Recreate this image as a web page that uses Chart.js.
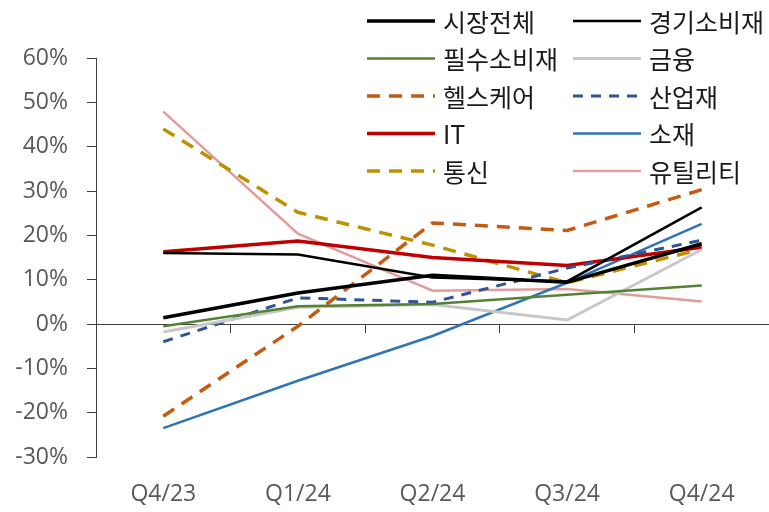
<!DOCTYPE html>
<html>
<head>
<meta charset="utf-8">
<script src="https://cdn.jsdelivr.net/npm/chart.js@4.4.1/dist/chart.umd.min.js"></script>
<style>
  html, body { margin: 0; padding: 0; background: #fff; }
  #wrap { width: 769px; height: 512px; }
</style>
</head>
<body>
<div id="wrap"><canvas id="sectorChart"></canvas></div>
<script>
// Data (quarterly, %)
const quarters = ['Q4/23', 'Q1/24', 'Q2/24', 'Q3/24', 'Q4/24'];
const market      = [1.4, 7.0, 11.0, 9.4, 18.1];
const consDisc    = [16.0, 15.7, 10.5, 9.6, 26.3];
const consStaples = [-0.5, 4.0, 4.5, 6.6, 8.7];
const financials  = [-1.8, 3.8, 4.4, 0.9, 16.8];
const healthcare  = [-20.8, -0.5, 22.8, 21.1, 30.3];
const industrials = [-4.0, 5.9, 4.9, 12.6, 18.9];
const itSector    = [16.3, 18.7, 15.0, 13.2, 17.3];
const materials   = [-23.5, -12.8, -2.7, 9.3, 22.6];
const telecom     = [44.0, 25.2, 17.8, 9.3, 16.9];
const utilities   = [47.9, 20.4, 7.5, 7.9, 5.1];
const yTicks = [-30, -20, -10, 0, 10, 20, 30, 40, 50, 60];

Chart.defaults.font.family = '"Open Sans", "Noto Sans", sans-serif';

function line(label, data, color, width, dash) {
  return {
    label: label,
    data: data,
    borderColor: color,
    backgroundColor: color,
    borderWidth: width,
    borderDash: dash || [],
    borderCapStyle: 'butt',
    pointRadius: 0,
    tension: 0,
    fill: false
  };
}

// legend drawn in two columns at the top right
const legendPlugin = {
  id: 'sectorLegend',
  afterDraw(chart) {
    const ctx = chart.ctx;
    const cols = [367, 573];
    chart.data.datasets.forEach((ds, i) => {
      const x = cols[i % 2];
      const y = 21 + Math.floor(i / 2) * 37.5;
      ctx.save();
      ctx.strokeStyle = ds.borderColor;
      ctx.lineWidth = ds.borderWidth;
      ctx.setLineDash(ds.borderDash);
      ctx.beginPath();
      ctx.moveTo(x, y);
      ctx.lineTo(x + 68, y);
      ctx.stroke();
      ctx.setLineDash([]);
      ctx.fillStyle = '#1a1a1a';
      ctx.font = '25px "Noto Sans CJK KR"';
      ctx.textBaseline = 'middle';
      ctx.fillText(ds.label, x + 76, y + 1);
      ctx.restore();
    });
  }
};

const config = {
  type: 'line',
  data: {
    labels: quarters,
    datasets: [
      line('시장전체', market, '#000000', 3.5),
      line('경기소비재', consDisc, '#000000', 2.5),
      line('필수소비재', consStaples, '#548235', 2.5),
      line('금융', financials, '#C8C8C8', 3),
      line('헬스케어', healthcare, '#C55A11', 3.5, [13, 9]),
      line('산업재', industrials, '#2F5597', 3, [10, 8]),
      line('IT', itSector, '#C00000', 3.5),
      line('소재', materials, '#2E75B6', 2.5),
      line('통신', telecom, '#BF9000', 3.5, [13, 9]),
      line('유틸리티', utilities, '#E39C9C', 2.5)
    ]
  },
  options: {
    responsive: true,
    maintainAspectRatio: false,
    animation: false,
    layout: { padding: { top: 58, right: 0, bottom: 0, left: 0 } },
    plugins: {
      legend: { display: false },
      tooltip: { enabled: false }
    },
    scales: {
      x: {
        offset: true,
        grid: { display: false, drawTicks: false },
        border: { display: false },
        ticks: { color: '#595959', font: { size: 23 }, padding: 24, maxRotation: 0 },
        afterFit(scale) { scale.height = 55; }
      },
      x2: {
        type: 'category',
        position: { y: 0 },
        offset: true,
        ticks: { display: false },
        grid: { offset: true, drawOnChartArea: false, drawTicks: true, tickLength: 8, color: '#404040' },
        border: { display: true, color: '#404040', width: 1 }
      },
      y: {
        min: -30,
        max: 60,
        afterBuildTicks(scale) { scale.ticks = yTicks.map(v => ({ value: v })); },
        grid: { drawOnChartArea: false, drawTicks: true, tickLength: 9, color: '#404040' },
        border: { display: true, color: '#404040', width: 1 },
        ticks: { color: '#595959', font: { size: 23 }, padding: 19, callback: v => v + '%' },
        afterFit(scale) { scale.width = 96; }
      }
    }
  },
  plugins: [legendPlugin]
};

const sectorChart = new Chart(document.getElementById('sectorChart'), config);
</script>
</body>
</html>
